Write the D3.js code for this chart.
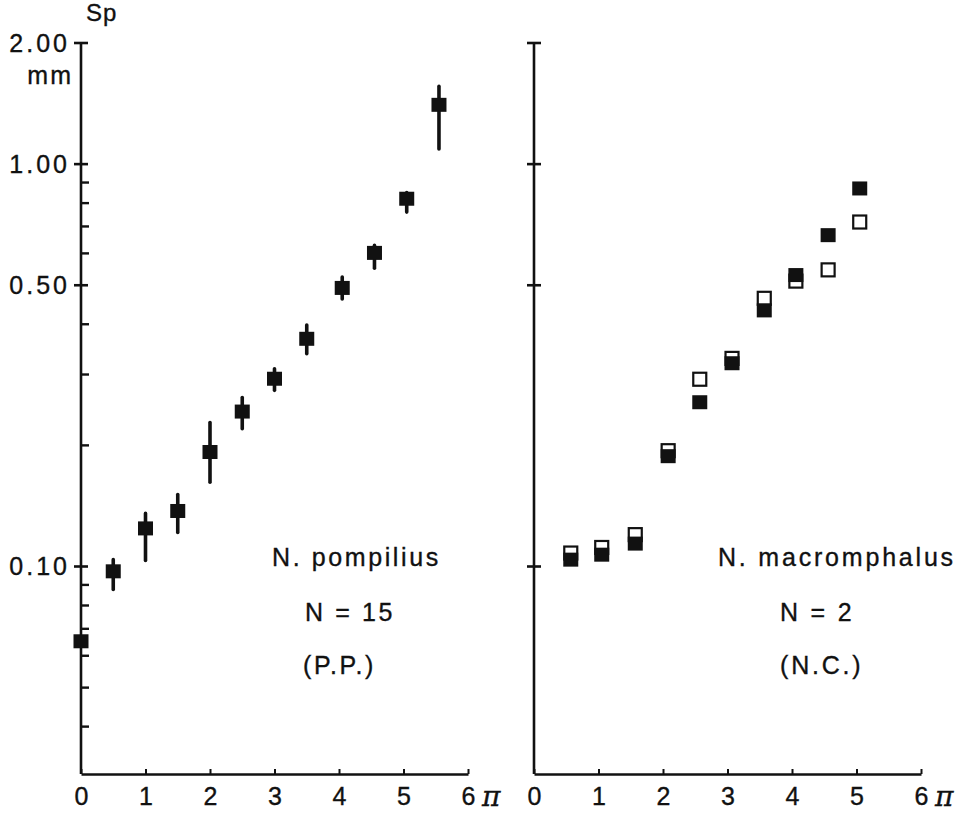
<!DOCTYPE html>
<html>
<head>
<meta charset="UTF-8">
<title>Sp vs n</title>
<script src="https://d3js.org/d3.v7.min.js"></script>
<style>
  body { margin: 0; background: #fff; }
  text { font-family: "Liberation Sans", "DejaVu Sans", sans-serif; fill: #111; stroke: #111; stroke-width: 0.35px; }
</style>
</head>
<body>
<div id="chart"></div>
<script>
// ---- data ----
// N. pompilius (P.P.), N = 15 : mean with range bar
const ppN    = [0, 0.5, 1, 1.5, 2, 2.5, 3, 3.5, 4.05, 4.55, 5.05, 5.55];
const ppMean = [0.065, 0.097, 0.124, 0.137, 0.192, 0.242, 0.292, 0.367, 0.491, 0.60, 0.818, 1.40];
const ppLow  = [0.065, 0.0877, 0.1035, 0.1215, 0.162, 0.22, 0.274, 0.338, 0.462, 0.551, 0.76, 1.09];
const ppHigh = [0.065, 0.104, 0.1355, 0.151, 0.228, 0.263, 0.31, 0.398, 0.524, 0.628, 0.85, 1.56];

// N. macromphalus (N.C.), N = 2 : two specimens
const ncN      = [0.57, 1.05, 1.57, 2.08, 2.57, 3.07, 3.57, 4.06, 4.56, 5.05];
const ncFilled = [0.104, 0.107, 0.114, 0.188, 0.256, 0.32, 0.433, 0.53, 0.666, 0.87];
const ncOpen   = [0.108, 0.1115, 0.120, 0.194, 0.292, 0.329, 0.464, 0.512, 0.546, 0.718];

const xTicks = [0, 1, 2, 3, 4, 5, 6];
const yMajor = [2, 1, 0.5, 0.1];
const yMajorLabels = ["2.00", "1.00", "0.50", "0.10"];
const yMinor = [0.9, 0.8, 0.7, 0.6, 0.4, 0.3, 0.2, 0.09, 0.08, 0.07, 0.06, 0.05, 0.04];

// ---- layout ----
const W = 977, H = 816;
const svg = d3.select("#chart").append("svg")
  .attr("width", W).attr("height", H);

const y = d3.scaleLog().domain([0.0305, 2]).range([774, 43]);
const xLeft = d3.scaleLinear().domain([0, 6]).range([81, 468]);
const xRight = d3.scaleLinear().domain([0, 6]).range([534, 921]);

const ink = "#111";
const axisW = 2.6;

function drawPanel(x, withLabels, minor) {
  const g = svg.append("g");
  const x0 = x(0);

  // vertical axis
  g.append("line")
    .attr("x1", x0).attr("x2", x0)
    .attr("y1", y(2)).attr("y2", y.range()[0])
    .attr("stroke", ink).attr("stroke-width", axisW);

  // major ticks crossing the axis
  g.selectAll(".maj").data(yMajor).join("line")
    .attr("x1", x0 - 7).attr("x2", x0 + 7)
    .attr("y1", d => y(d)).attr("y2", d => y(d))
    .attr("stroke", ink).attr("stroke-width", 2.6);

  // minor ticks on the inside
  g.selectAll(".min").data(minor).join("line")
    .attr("x1", x0).attr("x2", x0 + 8)
    .attr("y1", d => y(d)).attr("y2", d => y(d))
    .attr("stroke", ink).attr("stroke-width", 2.4);

  if (withLabels) {
    g.selectAll(".ylab").data(yMajor).join("text")
      .attr("x", x0 - 11)
      .attr("y", d => y(d))
      .attr("dy", "0.36em")
      .attr("text-anchor", "end")
      .style("font-size", "25px")
      .style("letter-spacing", "3px")
      .text((d, i) => yMajorLabels[i]);
  }

  // bottom axis: ticks point up, labels underneath
  const xa = d3.axisBottom(x).tickValues(xTicks)
    .tickSizeInner(-5).tickSizeOuter(0).tickPadding(13)
    .tickFormat(d3.format("d"));
  const ga = g.append("g")
    .attr("transform", "translate(0," + y.range()[0] + ")")
    .call(xa);
  ga.select(".domain").attr("stroke", ink).attr("stroke-width", axisW);
  ga.selectAll(".tick line").attr("stroke", ink).attr("stroke-width", 2);
  ga.selectAll(".tick text")
    .style("font-family", "'Liberation Sans', sans-serif")
    .style("font-size", "25px").attr("fill", ink);

  // axis name
  g.append("text")
    .attr("x", x(6) + 14).attr("y", y.range()[0] + 32)
    .style("font-family", "'DejaVu Serif', serif")
    .style("font-style", "italic")
    .style("font-size", "28px")
    .text("π");
  return g;
}

// ---- left panel ----
const gl = drawPanel(xLeft, true, yMinor);
const pp = ppN.map((n, i) => ({ n, m: ppMean[i], lo: ppLow[i], hi: ppHigh[i] }));

gl.selectAll(".err").data(pp).join("line")
  .attr("x1", d => xLeft(d.n)).attr("x2", d => xLeft(d.n))
  .attr("y1", d => y(d.lo)).attr("y2", d => y(d.hi))
  .attr("stroke", ink).attr("stroke-width", 3.6)
  .attr("stroke-linecap", "round");

const sq = 15;
gl.selectAll(".pt").data(pp).join("rect")
  .attr("x", d => xLeft(d.n) - sq / 2).attr("y", d => y(d.m) - sq / 2)
  .attr("width", sq).attr("height", sq - 1)
  .attr("fill", ink);

svg.append("text").attr("x", 86).attr("y", 21)
  .style("font-size", "24px").style("letter-spacing", "1px").text("Sp");
svg.append("text").attr("x", 73).attr("y", 84)
  .attr("text-anchor", "end")
  .style("font-size", "25px").style("letter-spacing", "2px").text("mm");

const leftNotes = [["N. pompilius", 272, 566], ["N = 15", 305, 621], ["(P.P.)", 303, 674]];
svg.selectAll(".ln").data(leftNotes).join("text")
  .attr("x", d => d[1]).attr("y", d => d[2])
  .style("font-size", "25px").style("letter-spacing", "2.6px")
  .text(d => d[0]);

// ---- right panel ----
const gr = drawPanel(xRight, false, []);
const nc = ncN.map((n, i) => ({ n, f: ncFilled[i], o: ncOpen[i] }));

gr.selectAll(".open").data(nc).join("rect")
  .attr("x", d => xRight(d.n) - 6.5).attr("y", d => y(d.o) - 6.5)
  .attr("width", 13).attr("height", 13)
  .attr("fill", "#fff").attr("stroke", ink).attr("stroke-width", 2.2);

gr.selectAll(".fill").data(nc).join("rect")
  .attr("x", d => xRight(d.n) - 7.5).attr("y", d => y(d.f) - 7)
  .attr("width", 15).attr("height", 14)
  .attr("fill", ink);

const rightNotes = [["N. macromphalus", 718, 566], ["N = 2", 780, 621], ["(N.C.)", 780, 674]];
svg.selectAll(".rn").data(rightNotes).join("text")
  .attr("x", d => d[1]).attr("y", d => d[2])
  .style("font-size", "25px").style("letter-spacing", "2.8px")
  .text(d => d[0]);
</script>
</body>
</html>
